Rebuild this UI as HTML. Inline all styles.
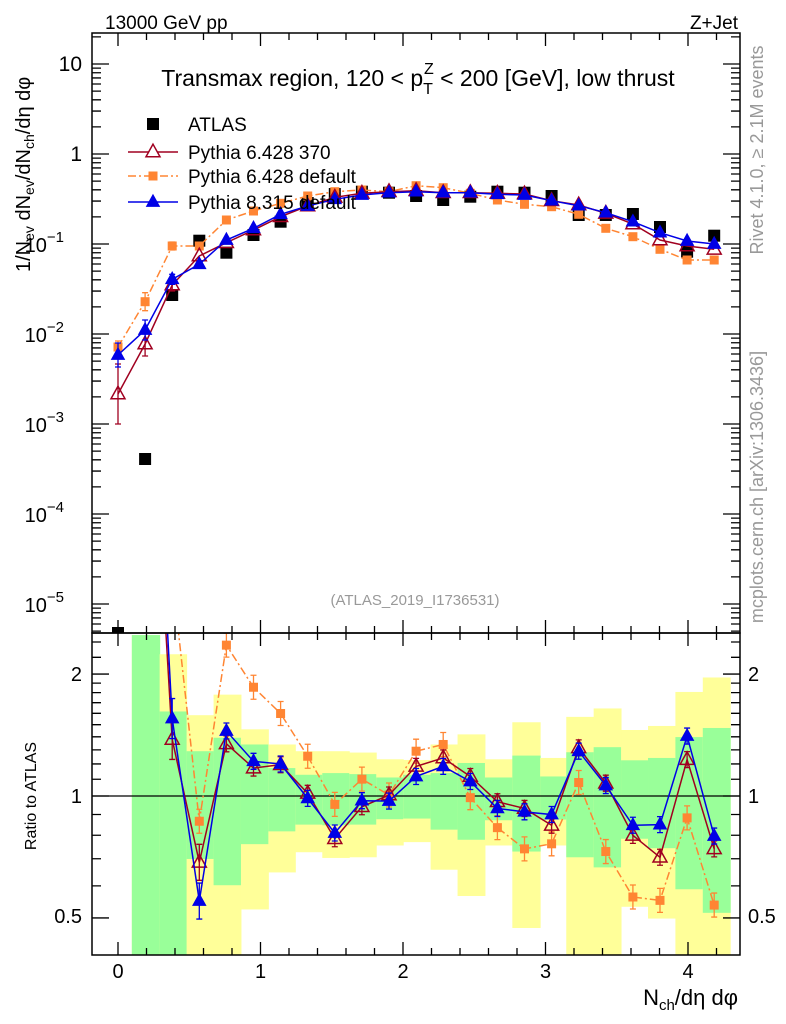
<!DOCTYPE html>
<html><head><meta charset="utf-8"><style>
html,body{margin:0;padding:0;background:#fff;}
svg{display:block;font-family:"Liberation Sans",sans-serif;}
</style></head><body>
<svg id="s" width="786" height="1024" xmlns="http://www.w3.org/2000/svg">
<defs>
<clipPath id="cm"><rect x="92" y="33" width="648" height="600"/></clipPath>
<clipPath id="cr"><rect x="92" y="633" width="648" height="322"/></clipPath>
</defs>
<g id="bands" clip-path="url(#cr)"></g>
<g id="dat"></g>
<g id="ax" stroke="#000" fill="none"></g>
<text x="105" y="29" font-size="19">13000 GeV pp</text>
<text x="738" y="29" font-size="19" text-anchor="end">Z+Jet</text>
<text x="418" y="86" font-size="23" text-anchor="middle">Transmax region, 120 &lt; p<tspan font-size="16" dy="8">T</tspan><tspan font-size="16" dx="-9" dy="-20">Z</tspan><tspan dy="12"> &lt; 200 [GeV], low thrust</tspan></text>
<text x="188" y="131" font-size="19">ATLAS</text>
<text x="188" y="159" font-size="19">Pythia 6.428 370</text>
<text x="188" y="183" font-size="19">Pythia 6.428 default</text>
<text x="188" y="209" font-size="19">Pythia 8.315 default</text>
<text x="415" y="605" font-size="15" fill="#999" text-anchor="middle">(ATLAS_2019_I1736531)</text>
<text transform="translate(763,150) rotate(-90)" font-size="18" fill="#999" text-anchor="middle">Rivet 4.1.0, ≥ 2.1M events</text>
<text transform="translate(763,487) rotate(-90)" font-size="18" fill="#999" text-anchor="middle">mcplots.cern.ch [arXiv:1306.3436]</text>
<text transform="translate(30,272) rotate(-90)" font-size="20">1/N<tspan font-size="14" dy="4">ev</tspan><tspan dy="-4"> dN</tspan><tspan font-size="14" dy="4">ev</tspan><tspan dy="-4">/dN</tspan><tspan font-size="14" dy="4">ch</tspan><tspan dy="-4">/dη dφ</tspan></text>
<text transform="translate(36,796) rotate(-90)" font-size="16" text-anchor="middle">Ratio to ATLAS</text>
<text x="738" y="1005" font-size="22" text-anchor="end">N<tspan font-size="15" dy="5">ch</tspan><tspan dy="-5">/dη dφ</tspan></text>
</svg>
<script>
var NS="http://www.w3.org/2000/svg";
function el(p,t,a,txt){var e=document.createElementNS(NS,t);for(var k in a)e.setAttribute(k,a[k]);if(txt!==undefined)e.textContent=txt;p.appendChild(e);return e;}
var s=document.getElementById('s'),ax=document.getElementById('ax'),dat=document.getElementById('dat'),bands=document.getElementById('bands');
function X(i){return 118+27.1*i;}
function XU(u){return 118+142.5*u;}
function ZY(z){return 630+z/2.97;}
function ZX(z){return 92+z/2.41;}
var bz=[[96,163,15,975,15,975],[163,228,72,975,242,975],[228,293,253,975,360,680],[293,359,192,975,320,758],[359,425,295,830,340,636],[425,490,340,720,410,598],[490,555,360,660,430,578],[555,620,360,677,425,580],[620,685,364,675,428,578],[685,750,384,640,438,562],[750,816,386,630,430,560],[816,881,340,712,425,593],[881,947,310,790,395,623],[947,1013,384,640,438,565],[1013,1080,274,885,373,658],[1080,1143,380,640,435,563],[1143,1209,258,975,363,675],[1209,1275,233,975,348,705],[1275,1340,297,822,387,620],[1340,1406,285,857,380,648],[1406,1472,184,975,318,770],[1472,1538,141,975,291,840]];
bz.forEach(function(b){var x1=ZX(b[0]),x2=ZX(b[1]);
el(bands,'rect',{x:x1,y:ZY(b[2]),width:x2-x1+0.5,height:ZY(b[3])-ZY(b[2]),fill:'#ffff99'});
el(bands,'rect',{x:x1,y:ZY(b[4]),width:x2-x1+0.5,height:ZY(b[5])-ZY(b[4]),fill:'#99ff99'});});
var A=[633,459,295,240.7,252.7,235,221.7,203,194,191.7,192.7,196,200,196.7,191.7,192.7,196,215,215,214,227,251.7,235.7];
var B=[355,330,279.3,264.3,240,228.3,214.3,206,199.3,195,192.7,191.7,192.7,192.7,194.3,195,200.7,205.7,212.7,221.7,232.7,241,244];
var R=[394,344,285,256,242.7,230,216.7,206,197.3,193.3,191.7,190.7,192.7,192.7,193.3,194,200.7,205,213.3,224,240,246,249.3];
var O=[347,301.7,246,246,220,211,203.3,196,191.7,190,191.7,185.7,187.7,193.3,200,204.3,206.7,214.3,228.3,236.7,249.3,260,260];
var Ebm=[12,10,5],Erm=[30,12,6],Eom=[6,9,4];
var Bz=[null,null,263,805,300,390,398,500,603,507,508,435,405,450,530,540,548,360,462,580,578,315,612];
var Rz=[null,null,325,690,338,410,400,485,620,525,490,405,380,435,510,530,580,350,455,610,675,385,650];
var Oz=[null,null,null,568,45,170,248,375,518,443,490,360,340,498,587,650,635,453,658,793,803,558,817];
function ry(arr,M,i){if(arr[i]!==null)return ZY(arr[i]);return 796-4.5*(A[i]-M[i]);}
function tri(g,x,y,sz,fill,stroke){var h=sz*0.9;el(g,'path',{d:'M'+x+','+(y-h*0.62)+'L'+(x+sz/2)+','+(y+h*0.38)+'L'+(x-sz/2)+','+(y+h*0.38)+'Z',fill:fill,stroke:stroke,'stroke-width':1.5});}
function series(clip,pts,col,dash,mk,errs){var g=el(dat,'g',{'clip-path':'url(#'+clip+')'});
var d=pts.map(function(p,i){return (i?'L':'M')+p[0]+','+p[1];}).join('');
var a={d:d,fill:'none',stroke:col,'stroke-width':1.5};if(dash)a['stroke-dasharray']=dash;el(g,'path',a);
pts.forEach(function(p,i){var e=errs(i);if(e){el(g,'path',{d:'M'+p[0]+','+(p[1]-e)+'V'+(p[1]+e)+'M'+(p[0]-3)+','+(p[1]-e)+'h6M'+(p[0]-3)+','+(p[1]+e)+'h6',stroke:col,'stroke-width':1.3,fill:'none'});}
mk(g,p[0],p[1]);});}
function mkO(g,x,y){el(g,'rect',{x:x-4.5,y:y-4.5,width:9,height:9,fill:'#ff8533'});}
function mkR(g,x,y){tri(g,x,y,14,'none','#a00020');}
function mkB(g,x,y){tri(g,x,y,12,'#0000e6','#0000e6');}
var ga=el(dat,'g',{'clip-path':'url(#cm)'});
A.forEach(function(y,i){el(ga,'rect',{x:X(i)-6,y:y-6,width:12,height:12,fill:'#000'});});
function mpts(M){return M.map(function(y,i){return [X(i),y];});}
series('cm',mpts(O),'#ff8533','8,3,2,3',mkO,function(i){return Eom[i]||0;});
series('cm',mpts(R),'#a00020',null,mkR,function(i){return Erm[i]||0;});
series('cm',mpts(B),'#0000e6',null,mkB,function(i){return Ebm[i]||0;});
el(dat,'line',{x1:92,x2:740,y1:796,y2:796,stroke:'#000','stroke-width':1.3});
function rpts(arr,M){return arr.map(function(v,i){return [X(i),ry(arr,M,i)];});}
series('cr',rpts(Oz,O),'#ff8533','8,3,2,3',mkO,function(i){return i>2?12:0;});
series('cr',rpts(Rz,R),'#a00020',null,mkR,function(i){return i===2?20:(i===3?18:(i>3?8:0));});
series('cr',rpts(Bz,B),'#0000e6',null,mkB,function(i){return i===2?20:(i===3?18:(i>3?8:0));});
el(dat,'rect',{x:147,y:118,width:12,height:12,fill:'#000'});
el(dat,'line',{x1:128,x2:178,y1:152,y2:152,stroke:'#a00020','stroke-width':1.5});tri(dat,153,152,14,'#fff','#a00020');
el(dat,'line',{x1:128,x2:178,y1:176,y2:176,stroke:'#ff8533','stroke-width':1.5,'stroke-dasharray':'8,3,2,3'});mkO(dat,153,176);
el(dat,'line',{x1:128,x2:178,y1:202,y2:202,stroke:'#0000e6','stroke-width':1.5});mkB(dat,153,202);
el(ax,'rect',{x:92,y:33,width:648,height:600,'stroke-width':1.5});
el(ax,'rect',{x:92,y:633,width:648,height:322,'stroke-width':1.5});
var d='';
for(var u=-0.2;u<=4.4;u+=0.2){var x=XU(u);if(x<93||x>739)continue;var maj=Math.abs(u-Math.round(u))<0.01;var L=maj?13:7;
d+='M'+x+',633v-'+L+'M'+x+',33v'+L+'M'+x+',633v'+L+'M'+x+',955v-'+L;}
for(var e=-6;e<=1;e++){for(var m=1;m<10;m++){var y=154-90*(e+Math.log10(m));if(y<34||y>632)continue;var L=m==1?17:9;d+='M92,'+y+'h'+L+'M740,'+y+'h-'+L;}}
var rt=[];for(var r=0.5;r<2.05;r+=0.1)rt.push(r);rt.push(2.2,2.4);
rt.forEach(function(r){var y=796-405*Math.log10(r);if(y<634||y>954)return;var maj=[0.5,1,2].some(function(v){return Math.abs(v-r)<0.01;});var L=maj?17:9;d+='M92,'+y+'h'+L+'M740,'+y+'h-'+L;});
el(ax,'path',{d:d,'stroke-width':1.3});
var T=s;
el(T,'text',{x:82,y:71,'font-size':21,'text-anchor':'end'},'10');
el(T,'text',{x:82,y:161,'font-size':21,'text-anchor':'end'},'1');
for(var e=1;e<=5;e++){var y=154+90*e;var t=el(T,'text',{x:64,y:y+8,'font-size':20,'text-anchor':'end'},'10');el(t,'tspan',{'font-size':15,dy:-10},'−'+e);}
[['2',674],['1',796],['0.5',916]].forEach(function(a){el(T,'text',{x:82,y:a[1]+7,'font-size':20,'text-anchor':'end'},a[0]);el(T,'text',{x:748,y:a[1]+7,'font-size':20},a[0]);});
for(var k=0;k<=4;k++)el(T,'text',{x:XU(k),y:978,'font-size':20,'text-anchor':'middle'},''+k);
</script>
</body></html>
